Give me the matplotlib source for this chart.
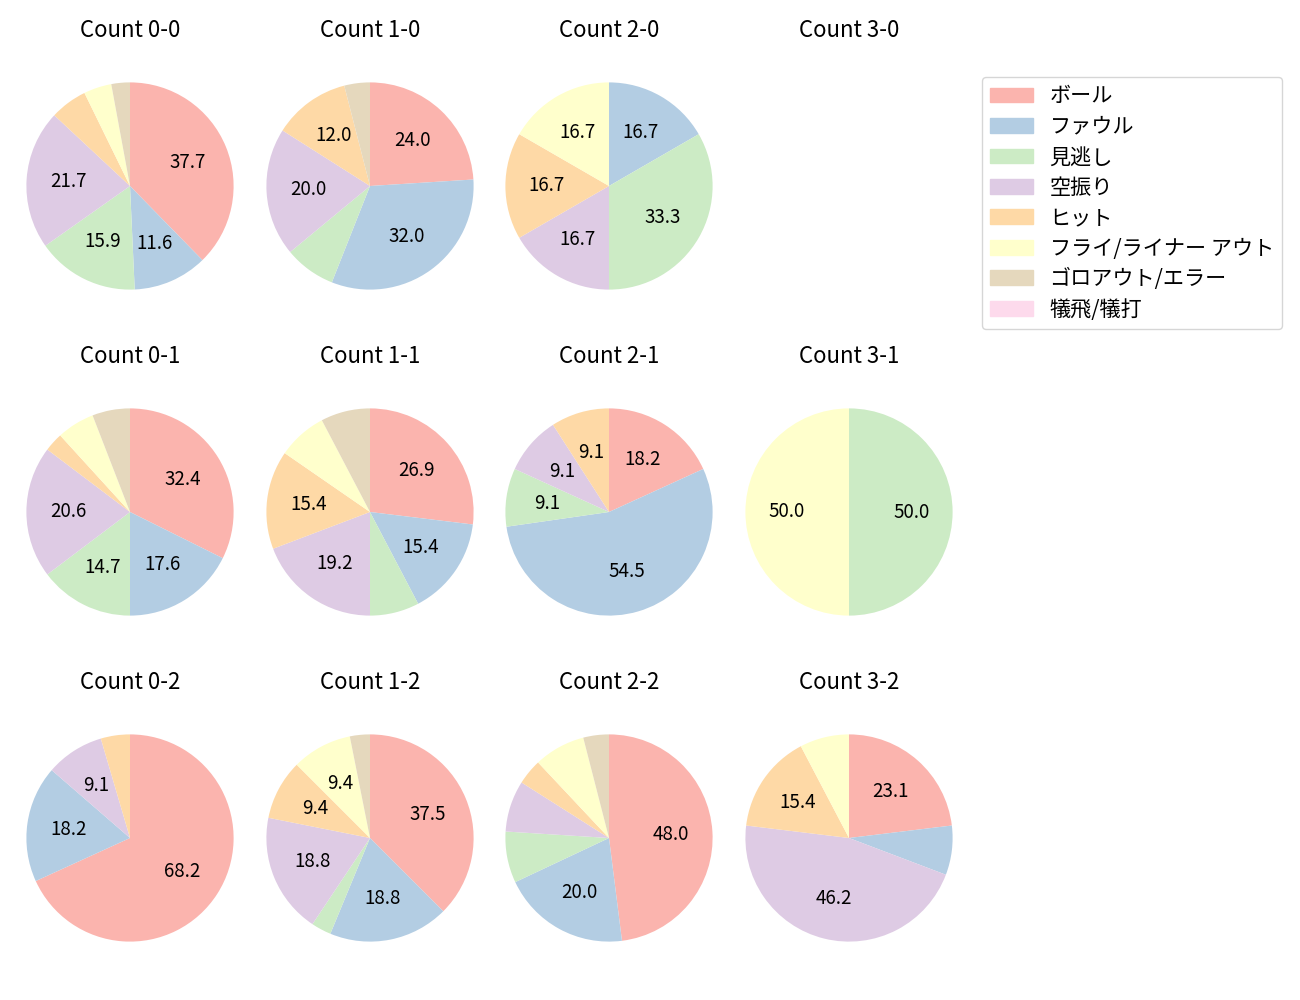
import matplotlib
matplotlib.use("Agg")
import matplotlib.pyplot as plt
from matplotlib.patches import Patch

plt.rcParams['font.family'] = ['Noto Sans CJK JP', 'DejaVu Sans']

categories = ['ボール', 'ファウル', '見逃し', '空振り', 'ヒット',
              'フライ/ライナー アウト', 'ゴロアウト/エラー', '犠飛/犠打']
colors = ['#fbb4ae', '#b3cde3', '#ccebc5', '#decbe4',
          '#fed9a6', '#ffffcc', '#e5d8bd', '#fddaec']

count_names = ['0-0', '1-0', '2-0', '3-0',
               '0-1', '1-1', '2-1', '3-1',
               '0-2', '1-2', '2-2', '3-2']

# pitches per result, same order as categories
pitch_counts = [
    [26, 8, 11, 15, 4, 3, 2, 0],
    [6, 8, 2, 5, 3, 0, 1, 0],
    [0, 1, 2, 1, 1, 1, 0, 0],
    [0, 0, 0, 0, 0, 0, 0, 0],
    [11, 6, 5, 7, 1, 2, 2, 0],
    [7, 4, 2, 5, 4, 2, 2, 0],
    [2, 6, 1, 1, 1, 0, 0, 0],
    [0, 0, 1, 0, 0, 1, 0, 0],
    [15, 4, 0, 2, 1, 0, 0, 0],
    [12, 6, 1, 6, 3, 3, 1, 0],
    [12, 5, 2, 2, 1, 2, 1, 0],
    [3, 1, 0, 6, 2, 1, 0, 0],
]

W, H = 1300, 1000
fig = plt.figure(figsize=(13, 10), dpi=100)

col_x = [130, 370, 609, 849]
row_y = [186, 512, 838]
side = 259  # pie radius 1 -> limits +-1.25

for i, (name, vals) in enumerate(zip(count_names, pitch_counts)):
    cx = col_x[i % 4]
    cy = row_y[i // 4]
    ax = fig.add_axes([(cx - side / 2) / W, 1 - (cy + side / 2) / H,
                       side / W, side / H])
    ax.set_title('Count ' + name, fontsize=16, pad=14)
    if sum(vals) == 0:
        ax.axis('off')
        continue
    ax.pie(vals, colors=colors, startangle=90, counterclock=False,
           autopct=lambda p: f'{p:.1f}' if p >= 9 else '',
           textprops={'fontsize': 13.5})

handles = [Patch(color=c, label=l) for c, l in zip(colors, categories)]
fig.legend(handles=handles, loc='upper left', bbox_to_anchor=(982 / W, 1 - 77 / H),
           borderaxespad=0, fontsize=15.2, labelspacing=0.4)

fig.savefig('out.png', dpi=100)
